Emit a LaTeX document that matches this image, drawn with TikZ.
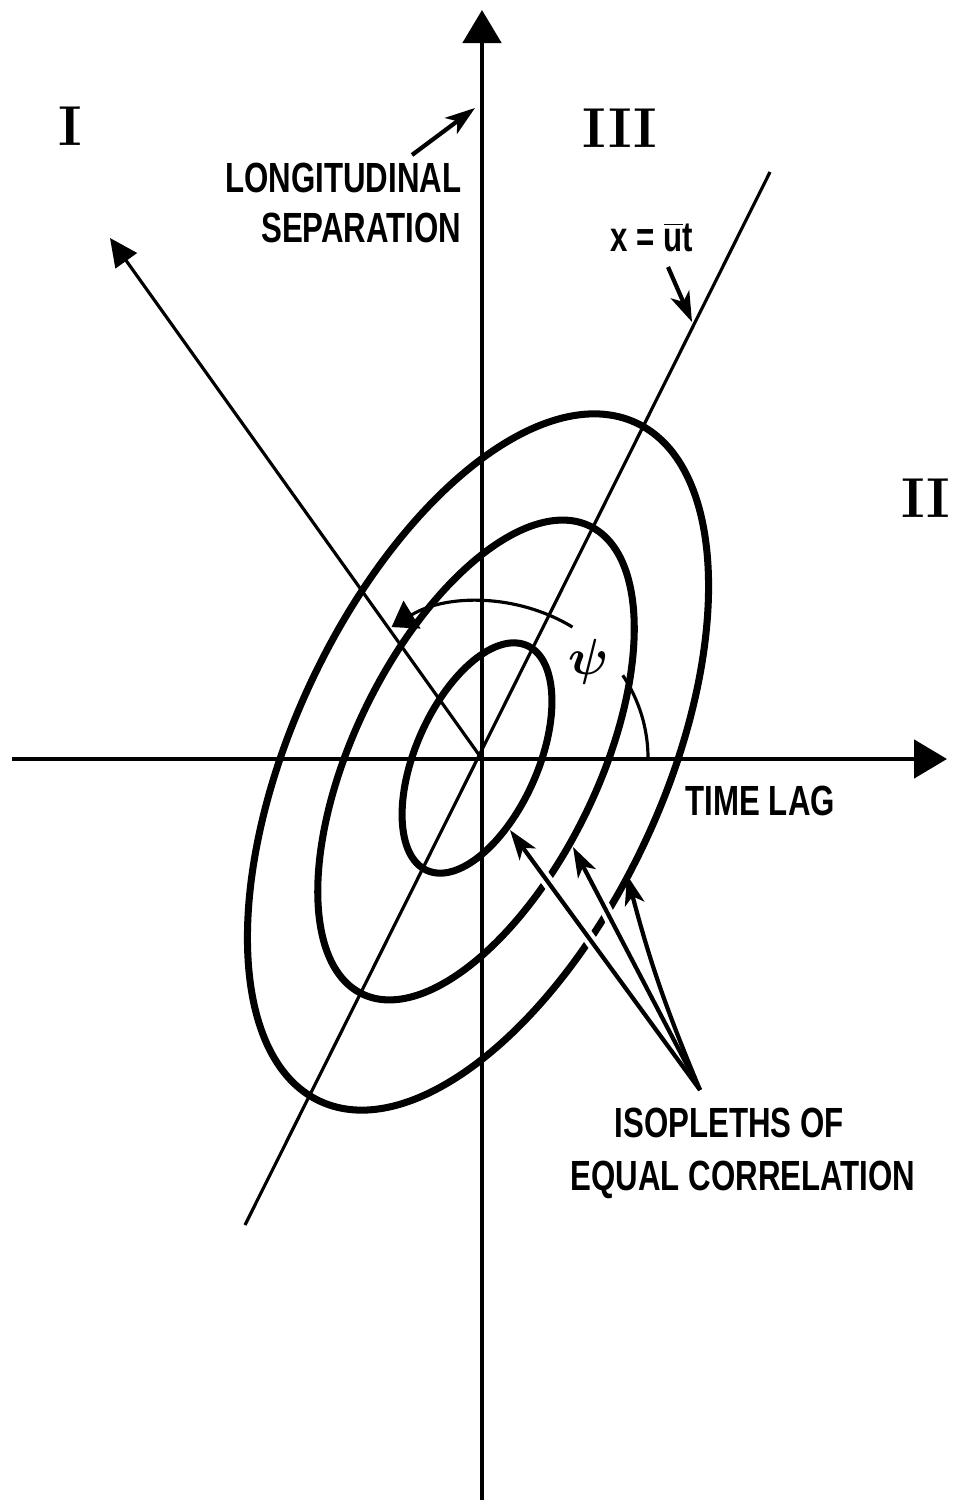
\documentclass[tikz,border=0pt]{standalone}
\usepackage{fontspec}
\setsansfont{Liberation Sans}[FakeStretch=0.74]
\usetikzlibrary{arrows.meta,calc}
\begin{document}
\begin{tikzpicture}[x=0.01cm,y=-0.01cm,
  ell/.style={line width=2pt},
  axisline/.style={line width=1.4pt, -{Triangle[length=0.33cm,width=0.38cm]}},
  thinline/.style={line width=0.9pt},
  lbl/.style={font=\sffamily\bfseries\fontsize{12}{14}\selectfont, inner sep=0pt},
  roman/.style={font=\bfseries\fontsize{16}{16}\selectfont, inner sep=0pt},
  ptr/.style={line width=1.2pt, -{Stealth[length=0.3cm,width=0.2cm,inset=0.08cm]}},
  halo/.style={draw=white, line width=3.5pt}]
\useasboundingbox (0,0) rectangle (953,1504);
% coordinates
\coordinate (O) at (482,759);
\coordinate (vbot) at (482,1500);
\coordinate (vtop) at (482,10);
\coordinate (hleft) at (12,759);
\coordinate (hright) at (947,759);
\coordinate (dlow) at (245,1225);
\coordinate (dhigh) at (770,172);
\coordinate (ptip) at (110,238);
% axes and lines
\draw[axisline] (vbot) -- (vtop);
\draw[axisline] (hleft) -- (hright);
\draw[thinline] (dlow) -- (dhigh);
\draw[thinline, -{Triangle[length=0.28cm,width=0.26cm]}] (O) -- (ptip);
% angle psi
\node[inner sep=1pt, font=\boldmath\fontsize{15}{15}\selectfont] (psi) at (589,662) {$\psi$};
\draw[thinline] (648,758) arc[start angle=0, end angle=32, x radius=1.66cm, y radius=1.56cm];
\draw[thinline, -{Triangle[length=0.24cm,width=0.32cm]}] ($(482,758)+(57:1.66cm and 1.56cm)$) arc[start angle=57, end angle=123, x radius=1.66cm, y radius=1.56cm];
% isopleths
\draw[ell, rotate around={65:(478,762)}] (478,762) ellipse[x radius=3.74cm, y radius=1.85cm];
\draw[ell, rotate around={64:(476,760)}] (476,760) ellipse[x radius=2.60cm, y radius=1.22cm];
\draw[ell, rotate around={66:(477,758)}] (477,758) ellipse[x radius=1.23cm, y radius=0.61cm];
% isopleth pointers
\coordinate (iso) at (700,1090);
\coordinate (t1) at (510,830);
\coordinate (t2) at (573,847);
\coordinate (t3) at (627,875);
\draw[halo, shorten <=0.9cm, shorten >=0.4cm] (iso) -- (t1);
\draw[halo, shorten <=0.9cm, shorten >=0.5cm] (iso) -- (t2);
\draw[ptr] (iso) -- (t1);
\draw[ptr] (iso) -- (t2);
\draw[ptr] (iso) to[bend left=4] (t3);
% labels
\node[roman] (q1) at (70,126) {I};
\node[roman] (q3) at (620,128) {III};
\node[roman] (q2) at (926,498) {II};
\node[lbl, anchor=base east] (lon1) at (462,193) {LONGITUDINAL};
\node[lbl, anchor=base east] (lon2) at (462,243) {SEPARATION};
\coordinate (lonTail) at (412,155);
\coordinate (lonTip) at (475,108);
\draw[ptr] (lonTail) -- (lonTip);
\node[lbl, anchor=base west] (xut) at (610,252) {x = $\overline{\hbox{u}}$t};
\coordinate (xutTail) at (668,267);
\coordinate (xutTip) at (692,322);
\draw[ptr] (xutTail) -- (xutTip);
\node[lbl, anchor=base west] (tl) at (685,815) {TIME LAG};
\node[lbl, anchor=base] (iso1) at (729,1137) {ISOPLETHS OF};
\node[lbl, anchor=base] (iso2) at (743,1190) {EQUAL CORRELATION};
\end{tikzpicture}
\end{document}
